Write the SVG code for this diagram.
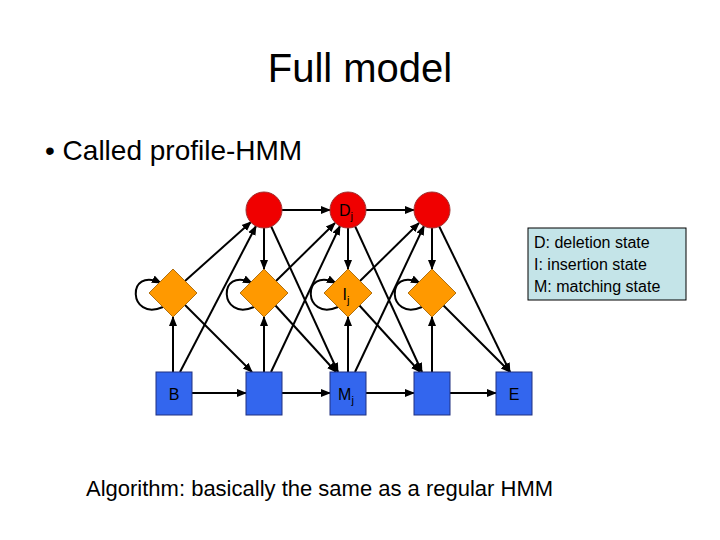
<svg xmlns="http://www.w3.org/2000/svg" width="720" height="540" viewBox="0 0 720 540">
<defs>
<marker id="a" viewBox="0 0 10 10" refX="9" refY="5" markerWidth="5" markerHeight="5" orient="auto"><path d="M0,1 L10,5 L0,9 z" fill="#000"/></marker>
<style>
.t{font-family:"Liberation Sans",Arial,sans-serif;fill:#000}
.c{fill:#f00000;stroke:#a03030;stroke-width:1}
.d{fill:#ff9900;stroke:#b07010;stroke-width:1}
.s{fill:#3366ee;stroke:#203080;stroke-width:1}
#edges line,#edges path{stroke:#000;stroke-width:2;fill:none;marker-end:url(#a)}
.n{font-size:16px;text-anchor:middle}
</style>
</defs>
<rect width="720" height="540" fill="#fff"/>
<text class="t" x="360" y="82" font-size="40" text-anchor="middle">Full model</text>
<text class="t" x="45" y="160" font-size="28">•  Called profile-HMM</text>
<text class="t" x="86" y="496" font-size="22">Algorithm: basically the same as a regular HMM</text>
<g id="edges">
<line x1="191" y1="393" x2="246" y2="393"/><line x1="282" y1="393" x2="330" y2="393"/><line x1="366" y1="393" x2="414" y2="393"/><line x1="450" y1="393" x2="496" y2="393"/>
<line x1="282" y1="210" x2="330" y2="210"/><line x1="366" y1="210" x2="414" y2="210"/>
<line x1="264" y1="228" x2="264" y2="269"/><line x1="348" y1="228" x2="348" y2="269"/><line x1="432" y1="228" x2="432" y2="269"/>
<line x1="173" y1="372" x2="173" y2="317"/><line x1="264" y1="372" x2="264" y2="317"/><line x1="348" y1="372" x2="348" y2="317"/><line x1="432" y1="372" x2="432" y2="317"/>
<line x1="271" y1="226" x2="338" y2="372"/><line x1="355" y1="226" x2="422" y2="372"/><line x1="439" y1="226" x2="510" y2="372"/>
<line x1="185" y1="281" x2="251" y2="222"/><line x1="276" y1="281" x2="335" y2="223"/><line x1="360" y1="281" x2="419" y2="223"/>
<line x1="185" y1="305" x2="252" y2="372"/><line x1="275" y1="305" x2="336" y2="372"/><line x1="359" y1="305" x2="420" y2="372"/><line x1="443" y1="305" x2="510" y2="372"/>
<line x1="180" y1="372" x2="256" y2="226"/><line x1="271" y1="372" x2="340" y2="226"/><line x1="355" y1="372" x2="424" y2="226"/>
<path d="M163,307 C128,322 126,266 161,283"/>
<path d="M254,307 C219,322 217,266 252,283"/>
<path d="M338,307 C303,322 301,266 336,283"/>
<path d="M422,307 C387,322 385,266 420,283"/>
</g>
<g id="D1"><circle class="c" cx="264" cy="210" r="18"/></g>
<g id="Dj"><circle class="c" cx="348" cy="210" r="18"/><text class="t n" x="346" y="216">D<tspan font-size="11" dy="4">j</tspan></text></g>
<g id="D3"><circle class="c" cx="432" cy="210" r="18"/></g>
<g id="I0"><path class="d" d="M173,269 L197,293 L173,317 L149,293 z"/></g>
<g id="I1"><path class="d" d="M264,269 L288,293 L264,317 L240,293 z"/></g>
<g id="Ij"><path class="d" d="M348,269 L372,293 L348,317 L324,293 z"/><text class="t n" x="346" y="300">I<tspan font-size="11" dy="4">j</tspan></text></g>
<g id="I3"><path class="d" d="M432,269 L456,293 L432,317 L408,293 z"/></g>
<g id="B"><rect class="s" x="156" y="372" width="36" height="43"/><text class="t n" x="174" y="400">B</text></g>
<g id="M1"><rect class="s" x="246" y="372" width="36" height="43"/></g>
<g id="Mj"><rect class="s" x="330" y="372" width="36" height="43"/><text class="t n" x="346" y="400">M<tspan font-size="11" dy="4">j</tspan></text></g>
<g id="M3"><rect class="s" x="414" y="372" width="36" height="43"/></g>
<g id="E"><rect class="s" x="496" y="372" width="36" height="43"/><text class="t n" x="514" y="400">E</text></g>
<g id="legend"><rect x="528" y="228" width="158" height="72" fill="#c4e4e8" stroke="#000" stroke-width="1"/>
<text class="t" x="534" y="248" font-size="16">D: deletion state</text>
<text class="t" x="534" y="270" font-size="16">I: insertion state</text>
<text class="t" x="534" y="292" font-size="16">M: matching state</text></g>
</svg>
